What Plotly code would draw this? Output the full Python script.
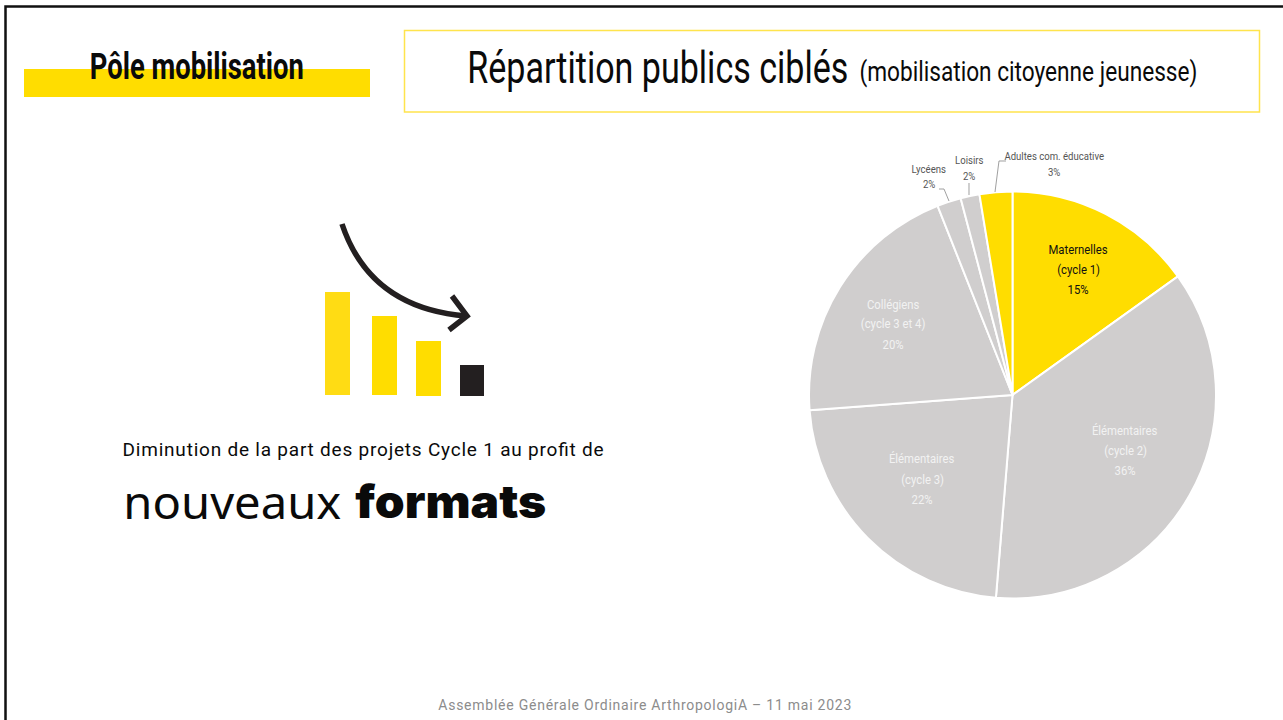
import json
import plotly.graph_objects as go

W, H = 1283, 720
YELLOW = "#FFDD00"
GREY = "#D0CECE"
BLACK = "#0A0A0A"
BODY = "Roboto, sans-serif"

# --- data -------------------------------------------------------------
slice_names = ["Maternelles (cycle 1)", "Élémentaires (cycle 2)", "Élémentaires (cycle 3)",
               "Collégiens (cycle 3 et 4)", "Lycéens", "Loisirs", "Adultes com. éducative"]
slice_values = [15.1, 36.2, 22.5, 20.2, 1.9, 1.5, 2.6]
slice_colors = [YELLOW, GREY, GREY, GREY, GREY, GREY, YELLOW]
slice_lines = [["Maternelles", "(cycle 1)", "15%"], ["Élémentaires", "(cycle 2)", "36%"],
               ["Élémentaires", "(cycle 3)", "22%"], ["Collégiens", "(cycle 3 et 4)", "20%"],
               ["Lycéens", "2%"], ["Loisirs", "2%"], ["Adultes com. éducative", "3%"]]
text_x = [1078, 1125, 922, 893, 929, 969, 1054]
text_y = [249, 430, 459, 304, 169, 160, 156]
line_gaps = [20, 20, 20, 20, 15, 16, 16]
text_colors = ["#111111", "#F2F2F2", "#F2F2F2", "#F2F2F2", "#555555", "#555555", "#555555"]
text_sizes = [13, 13, 13, 13, 11, 11, 11]

bar_slots = [337.5, 384.5, 428.5, 472]
bar_heights = [103, 79, 55, 31]
bar_widths = [25, 25, 25, 24]
bar_colors = ["#FFDC14", YELLOW, YELLOW, "#231F20"]

# target widths in pixels of the single-line headings
fit_widths = {
    "Pôle mobilisation": 214,
    "Répartition publics ciblés": 381,
    "(mobilisation citoyenne jeunesse)": 338,
    "Diminution de la part des projets Cycle 1 au profit de": 481,
    "nouveaux": 218,
    "formats": 191,
    "Assemblée Générale Ordinaire ArthropologiA – 11 mai 2023": 413,
}
spaced_texts = ["Diminution de la part des projets Cycle 1 au profit de",
                "Assemblée Générale Ordinaire ArthropologiA – 11 mai 2023"]


def px(x):
    return x / W


def py(y):
    return 1 - y / H


def rect(x0, y0, x1, y1, **kw):
    return dict(type="rect", xref="paper", yref="paper", x0=px(x0), x1=px(x1),
                y0=py(y1), y1=py(y0), **kw)


def path(points, color, width):
    d = "M " + " L ".join(f"{px(a):.5f},{py(b):.5f}" for a, b in points)
    return dict(type="path", xref="paper", yref="paper", path=d, line=dict(color=color, width=width))


def curve(p0, c, p1, color, width):
    d = (f"M {px(p0[0]):.5f},{py(p0[1]):.5f} Q {px(c[0]):.5f},{py(c[1]):.5f} "
         f"{px(p1[0]):.5f},{py(p1[1]):.5f}")
    return dict(type="path", xref="paper", yref="paper", path=d, line=dict(color=color, width=width))


fig = go.Figure()
fig.add_trace(go.Pie(
    labels=slice_names, values=slice_values, sort=False, direction="clockwise", rotation=0,
    marker=dict(colors=slice_colors, line=dict(color="white", width=2)),
    textinfo="none", showlegend=False,
    domain=dict(x=[px(809), px(1216)], y=[py(598.5), py(191.5)]),
))
fig.add_trace(go.Bar(
    x=bar_slots, y=bar_heights, width=bar_widths, marker=dict(color=bar_colors, line_width=0),
    base=[H - 395, H - 395, H - 396, H - 396], showlegend=False,
))

shapes = [
    rect(24, 69, 370, 97, fillcolor=YELLOW, line_width=0, layer="below"),
    rect(404.5, 30.5, 1259.5, 112, line=dict(color="#FFE44D", width=1.5), fillcolor="rgba(0,0,0,0)"),
    path([(5.5, 720), (5.5, 6.5), (1283, 6.5)], "#111111", 2.5),
    curve((342, 224), (370, 308), (466, 316), "#231F20", 5.5),
    path([(452, 296), (467, 316), (449, 330)], "#231F20", 5.5),
    path([(939, 189), (944, 189), (949, 201)], "#888888", 0.8),
    path([(969, 183), (969, 195)], "#888888", 0.8),
    path([(1006, 161), (999, 161), (995, 192)], "#888888", 0.8),
]


def note(x, y, text, size, color, family=BODY, weight=None):
    return dict(x=px(x), y=py(y), xref="paper", yref="paper", text=text, showarrow=False,
                xanchor="center", yanchor="middle", align="center",
                font=dict(family=family, size=size, color=color, weight=weight))


annotations = []
narrow_lines = []
for lines, tx, ty, gap, s, c in zip(slice_lines, text_x, text_y, line_gaps, text_sizes, text_colors):
    for i, line in enumerate(lines):
        annotations.append(note(tx, ty + i * gap, line, s, c))
        narrow_lines.append(line)

annotations += [
    note(197, 67, "Pôle mobilisation", 36, BLACK, weight=700),
    note(657.5, 67, "Répartition publics ciblés", 45, BLACK),
    note(1028, 72, "(mobilisation citoyenne jeunesse)", 27, BLACK),
    note(362.5, 449, "Diminution de la part des projets Cycle 1 au profit de", 19, BLACK),
    note(233, 501, "nouveaux", 46, BLACK, family="Noto Sans, sans-serif"),
    note(450.5, 501, "formats", 46, BLACK, family="Inter, sans-serif", weight=900),
    note(644.5, 705, "Assemblée Générale Ordinaire ArthropologiA – 11 mai 2023", 14, "#8C8C8C"),
]

fig.update_layout(
    width=W, height=H, margin=dict(l=0, r=0, t=0, b=0),
    paper_bgcolor="white", plot_bgcolor="rgba(0,0,0,0)",
    xaxis=dict(range=[0, W], domain=[0, 1], visible=False, fixedrange=True),
    yaxis=dict(range=[0, H], domain=[0, 1], visible=False, fixedrange=True),
    shapes=shapes, annotations=annotations,
)

post = """
document.body.style.margin = '0';
var fit = %s, narrow = %s, spaced = %s;
document.querySelectorAll('text.annotation-text').forEach(function (t) {
  var s = t.textContent, w = fit[s];
  if (!w && narrow.indexOf(s) >= 0) { w = t.getComputedTextLength() * 0.87; }
  if (w) {
    t.setAttribute('textLength', w);
    t.setAttribute('lengthAdjust', spaced.indexOf(s) >= 0 ? 'spacing' : 'spacingAndGlyphs');
  }
});
""" % (json.dumps(fit_widths), json.dumps(narrow_lines), json.dumps(spaced_texts))

fig.write_html("out.html", config={"displayModeBar": False}, post_script=post)
